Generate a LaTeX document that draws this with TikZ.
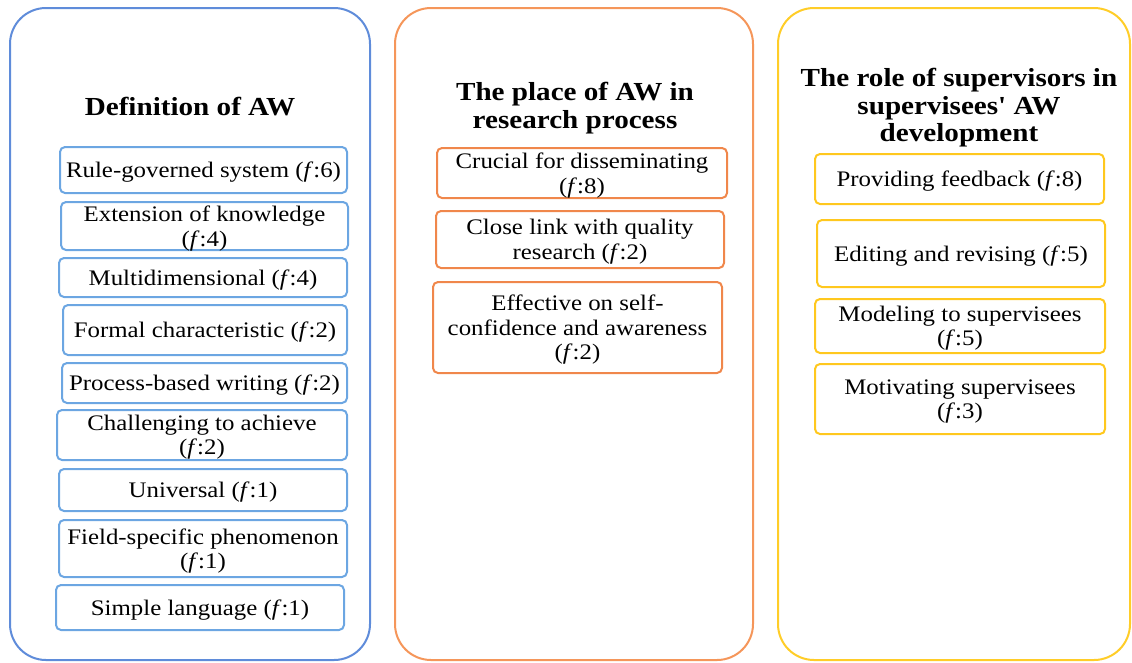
\documentclass[tikz,border=0pt]{standalone}
\usepackage{fontspec}
\setmainfont{Liberation Serif}[FakeStretch=1.12]
\definecolor{pblue}{RGB}{95,140,218}
\definecolor{bblue}{RGB}{108,166,226}
\definecolor{porange}{RGB}{245,150,90}
\definecolor{borange}{RGB}{240,135,75}
\definecolor{pyellow}{RGB}{255,205,40}
\definecolor{byellow}{RGB}{255,200,30}
\newcommand{\straightq}{{\addfontfeature{Ligatures=TeXOff}'}}
\begin{document}
\begin{tikzpicture}[x=1pt,y=-1pt,
  panel/.style={draw, line width=2pt, rounded corners=36pt, inner sep=0pt},
  item/.style={draw, line width=2pt, rounded corners=5pt, inner sep=0pt, align=center,
    text depth=0pt, font=\fontsize{22.2}{24.5}\selectfont},
  head/.style={align=center, inner sep=0pt, font=\fontsize{26}{27.5}\selectfont\bfseries}]
\useasboundingbox (0,0) rectangle (1132,662);
% panels
\node[panel, draw=pblue, minimum width=360pt, minimum height=652pt] (p1) at (190,334) {};
\node[panel, draw=porange, minimum width=358pt, minimum height=652pt] (p2) at (574,334) {};
\node[panel, draw=pyellow, minimum width=352pt, minimum height=652pt] (p3) at (954,334) {};
% headings
\node[head] (h1) at (190,107) {Definition of AW};
\node[head] (h2) at (575,108) {The place of AW in\\research process};
\node[head] (h3) at (959,108) {The role of supervisors in\\supervisees\straightq\ AW\\development};
% definition items
\tikzset{bi/.style={item, draw=bblue}, oi/.style={item, draw=borange}, yi/.style={item, draw=byellow}}
\node[bi, minimum width=287pt, minimum height=46pt] (d1) at (203.5,170) {Rule-governed system (\textit{f}:6)};
\node[bi, minimum width=287pt, minimum height=48pt] (d2) at (204.5,226) {Extension of knowledge\\(\textit{f}:4)};
\node[bi, minimum width=288pt, minimum height=39pt] (d3) at (203,277.5) {Multidimensional (\textit{f}:4)};
\node[bi, minimum width=284pt, minimum height=50pt] (d4) at (205,330) {Formal characteristic (\textit{f}:2)};
\node[bi, minimum width=285pt, minimum height=40pt] (d5) at (204.5,383) {Process-based writing (\textit{f}:2)};
\node[bi, minimum width=290pt, minimum height=50pt] (d6) at (202,435) {Challenging to achieve\\(\textit{f}:2)};
\node[bi, minimum width=288pt, minimum height=42pt] (d7) at (203,490) {Universal (\textit{f}:1)};
\node[bi, minimum width=288pt, minimum height=57pt] (d8) at (203,548.5) {Field-specific phenomenon\\(\textit{f}:1)};
\node[bi, minimum width=288pt, minimum height=45pt] (d9) at (200,607.5) {Simple language (\textit{f}:1)};
% place items
\node[oi, minimum width=290pt, minimum height=50pt] (o1) at (582,173) {Crucial for disseminating\\(\textit{f}:8)};
\node[oi, minimum width=288pt, minimum height=57pt] (o2) at (580,239.5) {Close link with quality\\research (\textit{f}:2)};
\node[oi, minimum width=289pt, minimum height=91pt] (o3) at (577.5,327.5) {Effective on self-\\confidence and awareness\\(\textit{f}:2)};
% role items
\node[yi, minimum width=289pt, minimum height=50pt] (y1) at (959.5,179) {Providing feedback (\textit{f}:8)};
\node[yi, minimum width=288pt, minimum height=67pt] (y2) at (961,253.5) {Editing and revising (\textit{f}:5)};
\node[yi, minimum width=290pt, minimum height=54pt] (y3) at (960,326) {Modeling to supervisees\\(\textit{f}:5)};
\node[yi, minimum width=290pt, minimum height=70pt] (y4) at (960,399) {Motivating supervisees\\(\textit{f}:3)};
\end{tikzpicture}
\end{document}
